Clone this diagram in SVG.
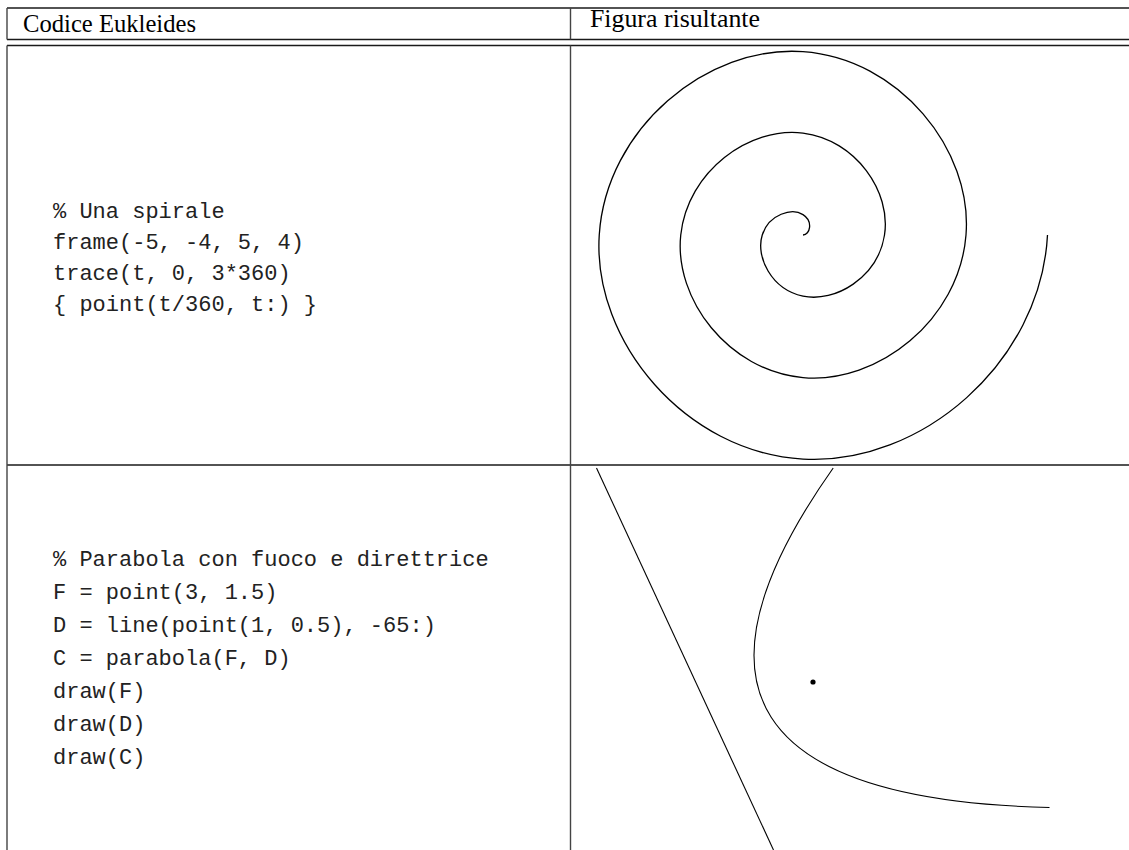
<svg xmlns="http://www.w3.org/2000/svg" width="1129" height="850" viewBox="0 0 1129 850">
<style>
.rule{stroke:#1a1a1a;stroke-width:1.3;fill:none}
.vrule{stroke:#444;stroke-width:1.4;fill:none}
.hdr{font-family:"Liberation Serif","Times New Roman",serif;font-size:25px;fill:#000}
.code{font-family:"Liberation Mono","Courier New",monospace;font-size:22px;fill:#222}
.curve{stroke:#000;fill:none;stroke-width:1.3}
.thin{stroke:#000;fill:none;stroke-width:1.1}
</style>
<rect width="1129" height="850" fill="#fff"/>
<g id="table">
<line class="rule" x1="7" y1="8" x2="1129" y2="8"/>
<line class="rule" x1="7" y1="39.5" x2="1129" y2="39.5"/>
<line class="rule" x1="7" y1="45.5" x2="1129" y2="45.5"/>
<line class="rule" x1="7" y1="465" x2="1129" y2="465"/>
<line class="vrule" x1="7" y1="8" x2="7" y2="39.5"/>
<line class="vrule" x1="7" y1="45.5" x2="7" y2="850"/>
<line class="vrule" x1="570.5" y1="8" x2="570.5" y2="39.5"/>
<line class="vrule" x1="570.5" y1="45.5" x2="570.5" y2="850"/>
</g>
<g id="header">
<text class="hdr" x="23" y="31.5" textLength="173" lengthAdjust="spacingAndGlyphs">Codice Eukleides</text>
<text class="hdr" x="590" y="27.3" textLength="170" lengthAdjust="spacingAndGlyphs">Figura risultante</text>
</g>
<g id="code-spiral">
<text class="code" x="53" y="218">% Una spirale</text>
<text class="code" x="53" y="249">frame(-5, -4, 5, 4)</text>
<text class="code" x="53" y="280">trace(t, 0, 3*360)</text>
<text class="code" x="53" y="311">{ point(t/360, t:) }</text>
</g>
<g id="figure-spiral">
<path class="curve" d="M803 235 C809.792 235 813.668 221.417 803 214.625 C792.332 207.833 769.042 213.664 762.25 235 C755.458 256.336 770.996 289.333 803 296.125 C835.004 302.917 877.708 277.672 884.5 235 C891.292 192.328 856.34 139.917 803 133.125 C749.66 126.333 687.542 170.992 680.75 235 C673.958 299.008 728.324 370.833 803 377.625 C877.676 384.417 959.208 320.344 966 235 C972.792 149.656 899.012 58.417 803 51.625 C706.988 44.833 606.042 128.32 599.25 235 C592.458 341.68 685.652 452.333 803 459.125 C920.348 465.917 1040.708 363.016 1047.5 235"/>
</g>
<g id="code-parabola">
<text class="code" x="53" y="565.5">% Parabola con fuoco e direttrice</text>
<text class="code" x="53" y="598.5">F = point(3, 1.5)</text>
<text class="code" x="53" y="631.5">D = line(point(1, 0.5), -65:)</text>
<text class="code" x="53" y="664.5">C = parabola(F, D)</text>
<text class="code" x="53" y="697.5">draw(F)</text>
<text class="code" x="53" y="730.5">draw(D)</text>
<text class="code" x="53" y="763.5">draw(C)</text>
</g>
<g id="figure-parabola">
<line class="thin" x1="596.5" y1="468" x2="773.5" y2="850"/>
<path class="thin" d="M833.2 468 Q601 796.8 1049.5 807.5"/>
<circle cx="813" cy="682" r="2.6" fill="#000"/>
</g>
</svg>
